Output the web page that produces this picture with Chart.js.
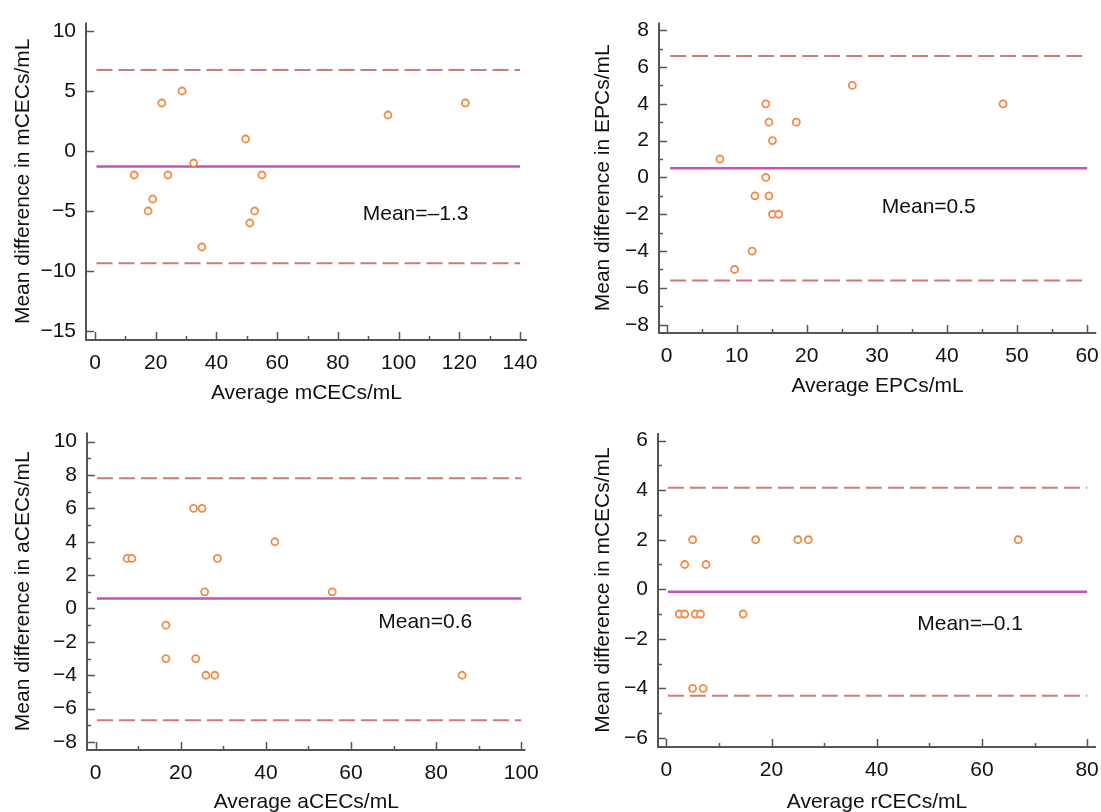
<!DOCTYPE html>
<html>
<head>
<meta charset="utf-8">
<script src="https://cdn.jsdelivr.net/npm/chart.js@4.4.1/dist/chart.umd.min.js"></script>
<style>
  html, body { margin: 0; padding: 0; background: #fff; overflow: hidden; width: 1101px; height: 812px; }
  canvas { position: absolute; }
</style>
</head>
<body>
<canvas id="p1" width="550" height="410" style="left:0;top:0"></canvas>
<canvas id="p2" width="530" height="410" style="left:580px;top:0"></canvas>
<canvas id="p3" width="550" height="410" style="left:0;top:410px"></canvas>
<canvas id="p4" width="530" height="410" style="left:580px;top:410px"></canvas>
<script>
// ---- mCECs ----
const mcecAvg  = [12.9, 17.5, 19, 22, 24, 28.7, 32.5, 35.2, 49.6, 51, 52.6, 55, 96.5, 122];
const mcecDiff = [-2, -5, -4, 4, -2, 5, -1, -8, 1, -6, -5, -2, 3, 4];
const mcecMean = -1.3;
const mcecUpper = 6.75;
const mcecLower = -9.35;
const mcecXTicks = [0, 20, 40, 60, 80, 100, 120, 140];
const mcecXMinor = [10, 30, 50, 70, 90, 110, 130];
const mcecYTicks = [10, 5, 0, -5, -10, -15];
const mcecYMinor = [];

// ---- EPCs ----
const epcAvg  = [7.6, 9.7, 12.2, 12.6, 14.15, 14.15, 14.6, 14.6, 15.1, 15.1, 16.0, 18.5, 26.5, 48];
const epcDiff = [1, -5, -4, -1, 4, 0, 3, -1, 2, -2, -2, 3, 5, 4];
const epcMean = 0.5;
const epcUpper = 6.6;
const epcLower = -5.6;
const epcXTicks = [0, 10, 20, 30, 40, 50, 60];
const epcXMinor = [5, 15, 25, 35, 45, 55];
const epcYTicks = [8, 6, 4, 2, 0, -2, -4, -6, -8];
const epcYMinor = [7, 5, 3, 1, -1, -3, -5, -7];

// ---- aCECs ----
const acecAvg  = [7.4, 8.5, 16.5, 16.5, 23, 23.5, 25, 25.6, 25.9, 28, 28.6, 42.1, 55.6, 86.1];
const acecDiff = [3, 3, -1, -3, 6, -3, 6, 1, -4, -4, 3, 4, 1, -4];
const acecMean = 0.6;
const acecUpper = 7.8;
const acecLower = -6.7;
const acecXTicks = [0, 20, 40, 60, 80, 100];
const acecXMinor = [10, 30, 50, 70, 90];
const acecYTicks = [10, 8, 6, 4, 2, 0, -2, -4, -6, -8];
const acecYMinor = [9, 7, 5, 3, 1, -1, -3, -5, -7];

// ---- rCECs ----
const rcecAvg  = [2.45, 3.5, 3.5, 5.0, 5.0, 5.5, 6.5, 7.0, 7.55, 14.6, 17.0, 25, 27, 66.9];
const rcecDiff = [-1, -1, 1, 2, -4, -1, -1, -4, 1, -1, 2, 2, 2, 2];
const rcecMean = -0.1;
const rcecUpper = 4.1;
const rcecLower = -4.3;
const rcecXTicks = [0, 20, 40, 60, 80];
const rcecXMinor = [10, 30, 50, 70];
const rcecYTicks = [6, 4, 2, 0, -2, -4, -6];
const rcecYMinor = [5, 3, 1, -1, -3, -5];

const FONT = "'Liberation Sans', Arial, Helvetica, sans-serif";
const FONT_SIZE = 21;
const AXIS_COLOR = '#555';
const POINT_COLOR = '#ef8b45';
const MEAN_COLOR = '#c452be';
const LIMIT_COLOR = '#cc7a7a';

const tickText = v => (v < 0 ? '\u2212' + Math.abs(v) : String(v));
const meanText = v => 'Mean=' + (v < 0 ? '\u2013' + Math.abs(v) : String(v));

// L-shaped axes with inward major/minor tick marks, plus the mean caption
function axesPlugin(p) {
  return {
    id: 'inwardAxes',
    beforeDatasetsDraw(chart) {
      const { ctx, chartArea: a, scales: { x, y } } = chart;
      ctx.save();
      ctx.strokeStyle = AXIS_COLOR;
      ctx.lineWidth = 2;
      ctx.beginPath();
      ctx.moveTo(a.left, a.top);
      ctx.lineTo(a.left, a.bottom);
      ctx.lineTo(a.right, a.bottom);
      ctx.stroke();
      ctx.lineWidth = 1.5;
      ctx.beginPath();
      const xt = (vals, len) => vals.forEach(v => {
        const px = Math.round(x.getPixelForValue(v)) + 0.5;
        ctx.moveTo(px, a.bottom); ctx.lineTo(px, a.bottom - len);
      });
      const yt = (vals, len) => vals.forEach(v => {
        const py = Math.round(y.getPixelForValue(v)) + 0.5;
        ctx.moveTo(a.left, py); ctx.lineTo(a.left + len, py);
      });
      xt(p.xTicks, 8); xt(p.xMinor, 4);
      yt(p.yTicks, 8); yt(p.yMinor, 4);
      ctx.stroke();
      ctx.restore();
    },
    afterDatasetsDraw(chart) {
      const { ctx, scales: { x, y } } = chart;
      ctx.save();
      ctx.fillStyle = '#111';
      ctx.font = FONT_SIZE + 'px ' + FONT;
      ctx.textAlign = 'left';
      ctx.textBaseline = 'middle';
      ctx.fillText(meanText(p.mean), x.getPixelForValue(p.capX), y.getPixelForValue(p.capY));
      ctx.restore();
    }
  };
}

function hLine(x0, x1, v) {
  return [{ x: x0, y: v }, { x: x1, y: v }];
}

function makePanel(id, p) {
  const scaleFont = { family: FONT, size: FONT_SIZE };
  new Chart(document.getElementById(id), {
    type: 'scatter',
    data: {
      datasets: [
        {
          data: p.avg.map((v, i) => ({ x: v, y: p.diff[i] })),
          pointRadius: 3.5,
          pointBorderWidth: 1.8,
          borderColor: POINT_COLOR,
          backgroundColor: '#fff',
          pointHoverRadius: 3.5
        },
        {
          data: hLine(p.lineFrom, p.lineTo, p.mean),
          showLine: true, pointRadius: 0,
          borderColor: MEAN_COLOR, borderWidth: 2.5
        },
        {
          data: hLine(p.lineFrom, p.lineTo, p.upper),
          showLine: true, pointRadius: 0,
          borderColor: LIMIT_COLOR, borderWidth: 2, borderDash: [16, 6]
        },
        {
          data: hLine(p.lineFrom, p.lineTo, p.lower),
          showLine: true, pointRadius: 0,
          borderColor: LIMIT_COLOR, borderWidth: 2, borderDash: [16, 6]
        }
      ]
    },
    options: {
      responsive: false,
      animation: false,
      events: [],
      layout: { padding: p.pad },
      plugins: { legend: { display: false }, tooltip: { enabled: false } },
      scales: {
        x: {
          type: 'linear', min: p.xMin, max: p.xMax,
          afterBuildTicks: s => { s.ticks = p.xTicks.map(v => ({ value: v })); },
          afterFit: s => { s.height = p.xAxisH; },
          grid: { display: false, drawTicks: false },
          border: { display: false },
          ticks: { font: scaleFont, color: '#111', padding: 11, maxRotation: 0, autoSkip: false, callback: tickText },
          title: { display: true, text: p.xTitle, font: scaleFont, color: '#111', padding: { top: 0, bottom: p.xTitlePad } }
        },
        y: {
          type: 'linear', min: p.yMin, max: p.yMax,
          afterBuildTicks: s => { s.ticks = p.yTicks.map(v => ({ value: v })); },
          afterFit: s => { s.width = p.yAxisW; },
          grid: { display: false, drawTicks: false },
          border: { display: false },
          ticks: { font: scaleFont, color: '#111', padding: 10, autoSkip: false, callback: tickText },
          title: { display: true, text: p.yTitle, font: scaleFont, color: '#111', padding: { top: 11, bottom: 0 } }
        }
      }
    },
    plugins: [axesPlugin(p)]
  });
}

makePanel('p1', {
  avg: mcecAvg, diff: mcecDiff, mean: mcecMean, upper: mcecUpper, lower: mcecLower,
  xTicks: mcecXTicks, xMinor: mcecXMinor, yTicks: mcecYTicks, yMinor: mcecYMinor,
  xTitle: 'Average mCECs/mL', yTitle: 'Mean difference in mCECs/mL',
  xMin: -2.96, xMax: 142.3, yMin: -15.75, yMax: 10.7, lineFrom: 0.5, lineTo: 140,
  capX: 88.2, capY: -5.24,
  pad: { top: 17, right: 23, bottom: 0, left: 0 }, yAxisW: 86, xAxisH: 70, xTitlePad: 4
});

makePanel('p2', {
  avg: epcAvg, diff: epcDiff, mean: epcMean, upper: epcUpper, lower: epcLower,
  xTicks: epcXTicks, xMinor: epcXMinor, yTicks: epcYTicks, yMinor: epcYMinor,
  xTitle: 'Average EPCs/mL', yTitle: 'Mean difference in EPCs/mL',
  xMin: -1.09, xMax: 61.3, yMin: -8.45, yMax: 8.41, lineFrom: 0.5, lineTo: 60,
  capX: 30.7, capY: -1.61,
  pad: { top: 20, right: 10, bottom: 0, left: 0 }, yAxisW: 79, xAxisH: 77, xTitlePad: 11
});

makePanel('p3', {
  avg: acecAvg, diff: acecDiff, mean: acecMean, upper: acecUpper, lower: acecLower,
  xTicks: acecXTicks, xMinor: acecXMinor, yTicks: acecYTicks, yMinor: acecYMinor,
  xTitle: 'Average aCECs/mL', yTitle: 'Mean difference in aCECs/mL',
  xMin: -2.04, xMax: 101, yMin: -8.48, yMax: 10.54, lineFrom: 0.3, lineTo: 100,
  capX: 66.4, capY: -0.81,
  pad: { top: 20, right: 23, bottom: 0, left: 0 }, yAxisW: 87, xAxisH: 70, xTitlePad: 5
});

makePanel('p4', {
  avg: rcecAvg, diff: rcecDiff, mean: rcecMean, upper: rcecUpper, lower: rcecLower,
  xTicks: rcecXTicks, xMinor: rcecXMinor, yTicks: rcecYTicks, yMinor: rcecYMinor,
  xTitle: 'Average rCECs/mL', yTitle: 'Mean difference in mCECs/mL',
  xMin: -1.58, xMax: 81.7, yMin: -6.37, yMax: 6.31, lineFrom: 0.3, lineTo: 80,
  capX: 47.7, capY: -1.40,
  pad: { top: 23, right: 10, bottom: 0, left: 0 }, yAxisW: 78, xAxisH: 73, xTitlePad: 5
});
</script>
</body>
</html>
